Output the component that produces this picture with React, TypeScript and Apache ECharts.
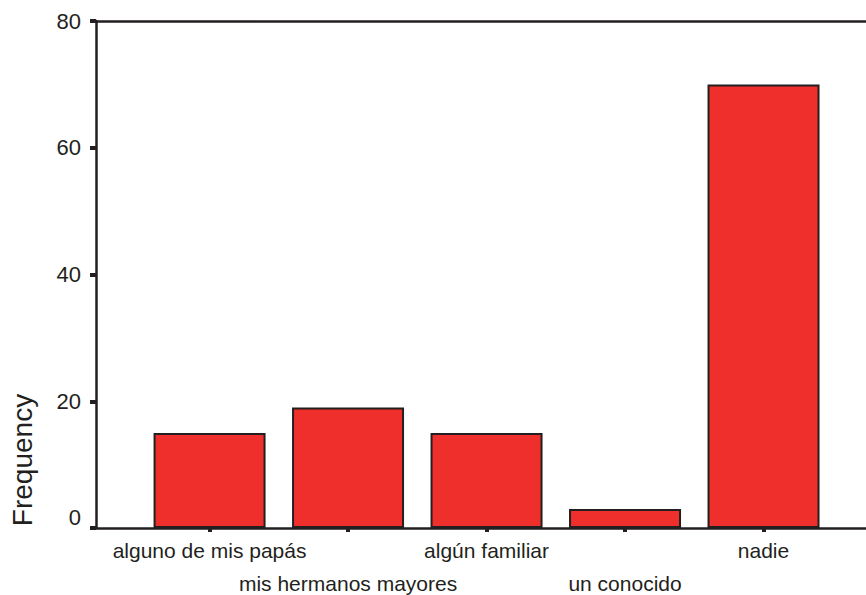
import React, { useEffect, useRef } from "react";
import * as echarts from "echarts";

const categories = [
  "alguno de mis papás",
  "mis hermanos mayores",
  "algún familiar",
  "un conocido",
  "nadie",
];
const frequencies = [15, 19, 15, 3, 70];
const yTicks = [0, 20, 40, 60, 80];
const yAxisTitle = "Frequency";

const INK = "#231f20";
const FONT = "'Liberation Sans', Arial, sans-serif";

export default function App() {
  const ref = useRef<HTMLDivElement>(null);
  useEffect(() => {
    if (!ref.current) return;
    const chart = echarts.init(ref.current, undefined, { renderer: "svg" });
    // category positions on the x value axis: 1..5
    const pos = categories.map((_, i) => i + 1);
    const row1 = pos.filter((_, i) => i % 2 === 0);
    const row2 = pos.filter((_, i) => i % 2 === 1);
    const xMin = 0.18;
    const xMax = 5.74;
    const nameAt = (v: number) => categories[Math.round(v) - 1] ?? "";
    const labelBase = {
      show: true,
      margin: 6,
      color: INK,
      fontFamily: FONT,
      fontSize: 21,
      lineHeight: 33,
      verticalAlign: "top",
      hideOverlap: false,
      showMinLabel: true,
      showMaxLabel: true,
      formatter: nameAt,
    };
    chart.setOption({
      animation: false,
      backgroundColor: "#ffffff",
      grid: {
        left: 96,
        right: 0,
        top: 21,
        bottom: 67,
        containLabel: false,
        outerBoundsMode: "none",
      },
      xAxis: [
        {
          type: "value",
          min: xMin,
          max: xMax,
          position: "bottom",
          splitLine: { show: false },
          axisLine: { show: true, onZero: false, lineStyle: { color: INK, width: 2.5 } },
          axisTick: {
            show: true,
            customValues: pos,
            inside: false,
            length: 4,
            lineStyle: { color: INK, width: 4 },
          },
          axisLabel: { ...labelBase, customValues: row1 },
        },
        {
          type: "value",
          min: xMin,
          max: xMax,
          position: "bottom",
          offset: 33,
          splitLine: { show: false },
          axisLine: { show: false },
          axisTick: { show: false },
          axisLabel: { ...labelBase, customValues: row2 },
        },
        {
          type: "value",
          min: xMin,
          max: xMax,
          position: "top",
          splitLine: { show: false },
          axisLine: { show: true, onZero: false, lineStyle: { color: INK, width: 2.5 } },
          axisTick: { show: false },
          axisLabel: { show: false },
        },
      ],
      yAxis: {
        type: "value",
        min: yTicks[0],
        max: yTicks[yTicks.length - 1],
        interval: 20,
        splitLine: { show: false },
        axisLine: { show: true, onZero: false, lineStyle: { color: INK, width: 2.5 } },
        axisTick: { show: true, inside: false, length: 6, lineStyle: { color: INK, width: 4 } },
        axisLabel: {
          margin: 15,
          color: INK,
          fontFamily: FONT,
          fontSize: 22,
          lineHeight: 22,
          showMinLabel: true,
          showMaxLabel: true,
          formatter: (v: number) => (v === 0 ? "0\n " : String(v)),
        },
      },
      graphic: [
        {
          type: "text",
          x: 22,
          y: 460,
          rotation: Math.PI / 2,
          style: {
            text: yAxisTitle,
            fill: INK,
            font: `28px ${FONT}`,
            align: "center",
            verticalAlign: "middle",
          },
        },
      ],
      series: [
        {
          type: "bar",
          xAxisIndex: 0,
          yAxisIndex: 0,
          barWidth: 112,
          data: frequencies.map((f, i) => [pos[i], f]),
          itemStyle: { color: "#ee2f2b", borderColor: INK, borderWidth: 2 },
        },
      ],
    });
    return () => chart.dispose();
  }, []);
  return (
    <div
      ref={ref}
      style={{ position: "fixed", left: 0, top: 0, width: 866, height: 595 }}
    />
  );
}
